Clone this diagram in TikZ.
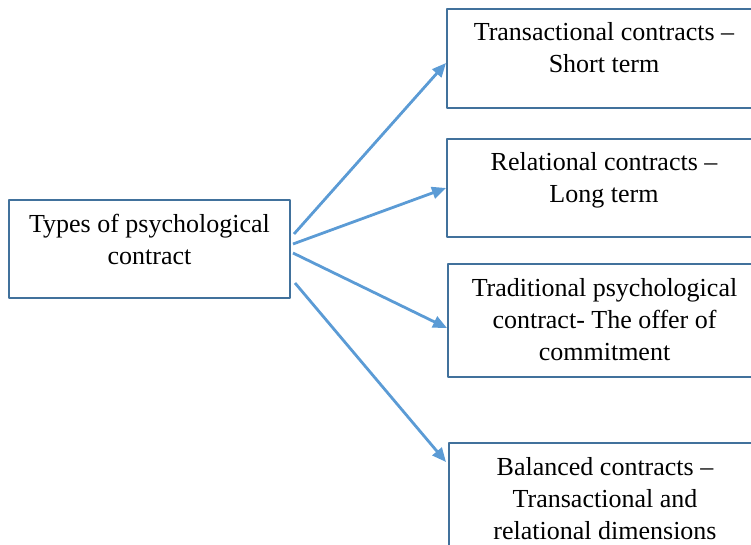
\documentclass[tikz,border=0pt]{standalone}
\usepackage{fontspec}
\setmainfont{Liberation Serif}
\usetikzlibrary{arrows.meta}
\definecolor{boxblue}{HTML}{41719C}
\definecolor{arrowblue}{HTML}{5B9BD5}
\tikzset{>={Triangle[length=14pt,width=12pt]},
every picture/.append style={
    line join=round
  }}

\begin{document}
\begin{tikzpicture}[x=1pt,y=-1pt,
    box/.style={draw=boxblue,line width=2pt,align=center,anchor=north west,
      font=\fontsize{26}{32}\selectfont,inner ysep=14pt},
    arr/.style={->,draw=arrowblue,line width=2.8pt}]
    \clip (0,0) rectangle (751,545);
    \node [box,minimum width=281pt,text height=50pt,text depth=20pt] (types) at (8,199) {Types of psychological\\contract};
    \node [box,minimum width=314pt,text height=50pt,text depth=21pt] (trans) at (446,8) {Transactional contracts --\\Short term};
    \node [box,minimum width=314pt,text height=50pt,text depth=20pt] (rel) at (446,138) {Relational contracts --\\Long term};
    \node [box,minimum width=313pt,text height=82pt,text depth=3pt] (trad) at (447,263) {Traditional psychological\\contract- The offer of\\commitment};
    \node [box,minimum width=312pt,text height=82pt,text depth=20pt] (bal) at (448,442) {Balanced contracts --\\Transactional and\\relational dimensions};
    \draw [arr] ([xshift=3pt,yshift=15pt]types.east) -- ([yshift=-4.5pt]trans.west);
    \draw [arr] ([xshift=2pt,yshift=5pt]types.east) -- (rel.west);
    \draw [arr] ([xshift=2pt,yshift=-4pt]types.east) -- ([yshift=-7.5pt]trad.west);
    \draw [arr] ([xshift=4pt,yshift=-34pt]types.east) -- ([xshift=-2pt,yshift=-20pt]bal.north west);
\end{tikzpicture}
\end{document}
